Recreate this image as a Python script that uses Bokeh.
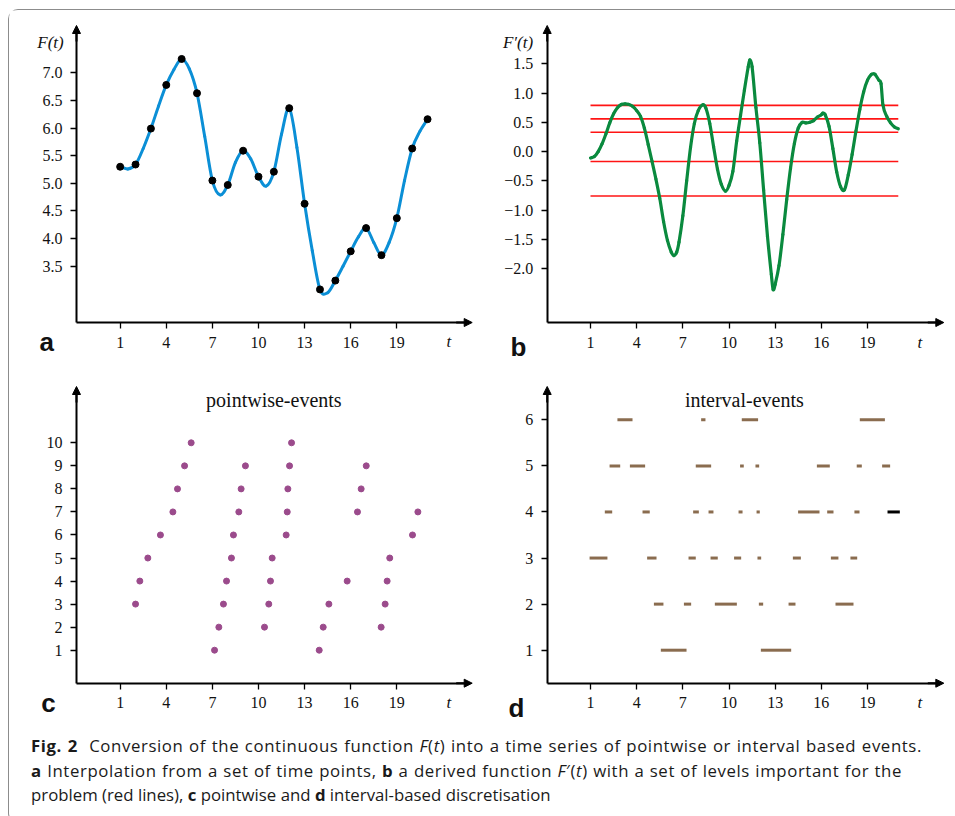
from bokeh.plotting import figure
from bokeh.models import ColumnDataSource, FixedTicker, Label, Arrow, NormalHead, Div
from bokeh.layouts import column, row
from bokeh.embed import file_html
from bokeh.resources import INLINE

# ---------------------------------------------------------------- data
# (a) F(t) sampled at the time points, plus the curve value halfway between them
time_points = [1, 2, 3, 4, 5, 6, 7, 8, 9, 10, 11, 12, 13, 14, 15, 16, 17, 18, 19, 20, 21]
f_values = [5.30, 5.34, 5.99, 6.78, 7.25, 6.63, 5.05, 4.97, 5.59, 5.12, 5.21,
            6.36, 4.63, 3.08, 3.24, 3.77, 4.19, 3.70, 4.37, 5.63, 6.16]
half_times = [1.5, 2.5, 3.5, 4.5, 5.5, 6.5, 7.5, 8.5, 9.5, 10.5,
              11.5, 12.5, 13.5, 14.5, 15.5, 16.5, 17.5, 18.5, 19.5, 20.5]
f_half_values = [5.26, 5.63, 6.40, 7.06, 7.07, 5.85, 4.79, 5.38, 5.44, 4.95,
                 5.89, 5.65, 3.78, 3.02, 3.50, 4.03, 3.93, 3.93, 5.05, 5.94]

# (b) derived function F'(t) and the levels of interest
deriv_times = [1.00, 1.25, 1.50, 1.75, 2.00, 2.25, 2.50, 2.75, 3.00, 3.25, 3.50, 3.75,
               4.00, 4.25, 4.50, 4.75, 5.00, 5.25, 5.50, 5.75, 6.00, 6.25, 6.42, 6.60,
               6.75, 7.00, 7.25, 7.50, 7.75, 8.00, 8.30, 8.50, 8.75, 9.00, 9.25, 9.50,
               9.77, 10.00, 10.25, 10.50, 10.75, 11.00, 11.25, 11.35, 11.50, 11.75, 12.00,
               12.25, 12.50, 12.75, 12.87, 13.00, 13.25, 13.50, 13.75, 14.00, 14.25, 14.50,
               14.75, 15.00, 15.25, 15.50, 15.75, 16.00, 16.10, 16.25, 16.50, 16.75, 17.00,
               17.25, 17.50, 17.75, 18.00, 18.25, 18.50, 18.75, 19.00, 19.25, 19.40, 19.50,
               19.75, 19.88, 20.00, 20.25, 20.50, 20.75, 21.00]
deriv_values = [-0.11, -0.085, 0.00, 0.13, 0.30, 0.49, 0.645, 0.75, 0.805, 0.816, 0.805, 0.77,
                0.70, 0.60, 0.40, 0.12, -0.17, -0.47, -0.80, -1.20, -1.52, -1.72, -1.78, -1.72,
                -1.55, -1.10, -0.50, 0.07, 0.48, 0.70, 0.80, 0.74, 0.48, 0.08, -0.30, -0.56,
                -0.678, -0.58, -0.34, 0.18, 0.62, 1.05, 1.45, 1.57, 1.45, 0.75, 0.15,
                -0.66, -1.45, -2.10, -2.36, -2.27, -1.95, -1.42, -0.82, -0.28, 0.14, 0.40,
                0.50, 0.49, 0.50, 0.53, 0.59, 0.63, 0.656, 0.63, 0.43, 0.05, -0.35,
                -0.60, -0.655, -0.40, -0.05, 0.35, 0.72, 1.02, 1.22, 1.318, 1.33, 1.318,
                1.215, 1.16, 0.80, 0.60, 0.49, 0.42, 0.39]
deriv_levels = [0.79, 0.56, 0.33, -0.17, -0.76]

# (c) pointwise events: time of each event and its level
pw_times = [2.00, 2.28, 2.80, 3.62, 4.43, 4.73, 5.19, 5.62,
            7.14, 7.42, 7.72, 7.92, 8.24, 8.37, 8.72, 8.87, 9.15,
            10.39, 10.67, 10.78, 10.89,
            11.80, 11.87, 11.91, 12.02, 12.15,
            13.95, 14.21, 14.58, 15.77, 16.44, 16.68, 17.01,
            17.98, 18.24, 18.37, 18.54,
            20.02, 20.37]
pw_levels = [3, 4, 5, 6, 7, 8, 9, 10,
             1, 2, 3, 4, 5, 6, 7, 8, 9,
             2, 3, 4, 5,
             6, 7, 8, 9, 10,
             1, 2, 3, 4, 7, 8, 9,
             2, 3, 4, 5,
             6, 7]

# (d) interval events: level, start, end
iv_levels = [1, 1,
             2, 2, 2, 2, 2, 2,
             3, 3, 3, 3, 3, 3, 3, 3, 3,
             4, 4, 4, 4, 4, 4, 4, 4, 4,
             5, 5, 5, 5, 5, 5, 5, 5,
             6, 6, 6, 6]
iv_start = [5.57, 12.07,
            5.12, 7.07, 9.08, 11.94, 13.87, 16.92,
            0.94, 4.68, 7.37, 8.80, 10.33, 11.85, 14.15, 16.62, 17.89,
            1.93, 4.38, 7.67, 8.67, 10.62, 11.79, 14.49, 16.38, 18.15,
            2.24, 3.56, 7.84, 10.72, 11.72, 15.71, 18.30, 19.95,
            2.75, 8.19, 10.83, 18.50]
iv_end = [7.24, 14.04,
          5.74, 7.54, 10.51, 12.22, 14.32, 18.09,
          2.10, 5.29, 7.84, 9.27, 10.79, 12.09, 14.67, 17.11, 18.33,
          2.41, 4.85, 8.04, 8.99, 10.88, 12.00, 15.88, 16.79, 18.48,
          2.93, 4.55, 8.84, 10.96, 11.96, 16.55, 18.63, 20.47,
          3.73, 8.47, 11.89, 20.13]
# interval still running at the end of the series
open_level = [4]
open_start = [20.30]
open_end = [21.10]

t_ticks = [1, 4, 7, 10, 13, 16, 19]
f_ticks = [3.5, 4.0, 4.5, 5.0, 5.5, 6.0, 6.5, 7.0]
d_ticks = [-2.0, -1.5, -1.0, -0.5, 0.0, 0.5, 1.0, 1.5]
pw_ticks = [1, 2, 3, 4, 5, 6, 7, 8, 9, 10]
iv_ticks = [1, 2, 3, 4, 5, 6]

# ---------------------------------------------------------------- style
BLUE = "#0b8fd6"
GREEN = "#0a8a3e"
RED = "#ff1414"
PURPLE = "#9b4b8c"
BROWN = "#8a6c4f"
SERIF = "Liberation Serif"
SANS = "Liberation Sans"


def hermite_bezier(xs, ys):
    """Cubic Bezier pieces of a smooth curve running through (xs, ys)."""
    n = len(xs)
    slopes = []
    for i in range(n):
        a, b = max(i - 1, 0), min(i + 1, n - 1)
        slopes.append((ys[b] - ys[a]) / (xs[b] - xs[a]))
    seg = dict(x0=[], y0=[], x1=[], y1=[], cx0=[], cy0=[], cx1=[], cy1=[])
    for i in range(n - 1):
        h = xs[i + 1] - xs[i]
        seg["x0"].append(xs[i]); seg["y0"].append(ys[i])
        seg["x1"].append(xs[i + 1]); seg["y1"].append(ys[i + 1])
        seg["cx0"].append(xs[i] + h / 3); seg["cy0"].append(ys[i] + slopes[i] * h / 3)
        seg["cx1"].append(xs[i + 1] - h / 3); seg["cy1"].append(ys[i + 1] - slopes[i + 1] * h / 3)
    return ColumnDataSource(seg)


def panel(x_range, y_range, width, height, axis_x, axis_y, tip_x, tip_y,
          y_ticks, y_labels=None):
    p = figure(width=width, height=height, x_range=x_range, y_range=y_range,
               min_border=0, toolbar_location=None, output_backend="svg")
    p.grid.visible = False
    p.outline_line_color = None
    p.background_fill_color = "white"
    p.border_fill_color = "white"

    ux = (x_range[1] - x_range[0]) / width
    uy = (y_range[1] - y_range[0]) / height
    head = 8

    xa, ya = p.xaxis[0], p.yaxis[0]
    xa.fixed_location = axis_y
    ya.fixed_location = axis_x
    xa.bounds = (axis_x, tip_x - head * 0.5 * ux)
    ya.bounds = (axis_y, tip_y - head * 0.5 * uy)
    xa.ticker = FixedTicker(ticks=t_ticks)
    ya.ticker = FixedTicker(ticks=y_ticks)
    if y_labels is not None:
        ya.major_label_overrides = dict(zip(y_ticks, y_labels))
    for ax in (xa, ya):
        ax.axis_line_color = "black"
        ax.axis_line_width = 2
        ax.major_tick_line_color = "black"
        ax.major_tick_line_width = 1.3
        ax.major_tick_in = 0
        ax.major_tick_out = 6
        ax.minor_tick_line_color = None
        ax.major_label_text_font = SERIF
        ax.major_label_text_font_size = "16px"
        ax.major_label_text_color = "#111111"
    xa.major_label_standoff = 8
    ya.major_label_standoff = 8

    for (xs, ys, xe, ye) in ((axis_x, tip_y - 2 * head * uy, axis_x, tip_y),
                             (tip_x - 2 * head * ux, axis_y, tip_x, axis_y)):
        p.add_layout(Arrow(x_start=xs, y_start=ys, x_end=xe, y_end=ye,
                           line_color="black", line_width=2,
                           end=NormalHead(size=head, fill_color="black",
                                          line_color="black", line_width=1)))
    return p


def text(p, x, y, s, size, font=SERIF, style="normal", align="center"):
    p.add_layout(Label(x=x, y=y, text=s, text_font=font, text_font_size=size,
                       text_font_style=style, text_align=align, text_baseline="middle",
                       text_color="#111111"))


def one_decimal(vals):
    return [f"{v:.1f}".replace("-", "\u2212") for v in vals]


# ---------------------------------------------------------------- (a) F(t)
pa = panel((-6.200, 24.444), (1.613, 8.127), 471, 360,
           axis_x=-1.841, axis_y=2.481, tip_x=23.904, tip_y=7.856,
           y_ticks=f_ticks, y_labels=one_decimal(f_ticks))
curve_t, curve_f = [], []
for i, t in enumerate(time_points):
    curve_t.append(t); curve_f.append(f_values[i])
    if i < len(half_times):
        curve_t.append(half_times[i]); curve_f.append(f_half_values[i])
pa.bezier(x0="x0", y0="y0", x1="x1", y1="y1", cx0="cx0", cy0="cy0", cx1="cx1", cy1="cy1",
          source=hermite_bezier(curve_t, curve_f), line_color=BLUE, line_width=3,
          line_cap="round")
pa.scatter(time_points, f_values, size=7, color="black")
text(pa, -3.53, 7.55, "F(t)", "17px", style="italic")
text(pa, 22.38, 2.13, "t", "17px", style="italic")
text(pa, -4.25, 2.13, "a", "26px", font=SANS, style="bold", align="left")

# ---------------------------------------------------------------- (b) F'(t)
pb = panel((-6.148, 24.718), (-3.744, 2.412), 475, 360,
           axis_x=-1.814, axis_y=-2.9235, tip_x=23.958, tip_y=2.1555,
           y_ticks=d_ticks, y_labels=one_decimal(d_ticks))
n_lv = len(deriv_levels)
pb.segment(x0=[deriv_times[0]] * n_lv, x1=[deriv_times[-1]] * n_lv,
           y0=deriv_levels, y1=deriv_levels, line_color=RED, line_width=1.7)
pb.bezier(x0="x0", y0="y0", x1="x1", y1="y1", cx0="cx0", cy0="cy0", cx1="cx1", cy1="cy1",
          source=hermite_bezier(deriv_times, deriv_values), line_color=GREEN, line_width=3.2,
          line_cap="round")
text(pb, -3.71, 1.87, "F\u2032(t)", "17px", style="italic")
text(pb, 22.40, -3.26, "t", "17px", style="italic")
text(pb, -4.20, -3.35, "b", "26px", font=SANS, style="bold", align="left")

# ---------------------------------------------------------------- (c) pointwise events
pc = panel((-6.200, 24.444), (-2.398, 13.1375), 471, 358,
           axis_x=-1.841, axis_y=-0.432, tip_x=23.904, tip_y=12.443,
           y_ticks=pw_ticks)
pc.scatter(pw_times, pw_levels, size=6, color=PURPLE)
text(pc, 11.0, 11.84, "pointwise-events", "20px")
text(pc, 22.38, -1.257, "t", "17px", style="italic")
text(pc, -4.14, -1.29, "c", "26px", font=SANS, style="bold", align="left")

# ---------------------------------------------------------------- (d) interval events
pd = panel((-6.148, 24.718), (-0.6992, 7.0699), 475, 358,
           axis_x=-1.814, axis_y=0.2839, tip_x=23.958, tip_y=6.7227,
           y_ticks=iv_ticks)
pd.segment(x0=iv_start, x1=iv_end, y0=iv_levels, y1=iv_levels,
           line_color=BROWN, line_width=3, line_cap="butt")
pd.segment(x0=open_start, x1=open_end, y0=open_level, y1=open_level,
           line_color="black", line_width=3, line_cap="butt")
text(pd, 11.0, 6.42, "interval-events", "20px")
text(pd, 22.40, -0.128, "t", "17px", style="italic")
text(pd, -4.33, -0.255, "d", "26px", font=SANS, style="bold", align="left")

# ---------------------------------------------------------------- caption
JUSTIFIED = "text-align:justify;text-align-last:justify;letter-spacing:0.6px;"
caption_html = (
    "<div style=\"font-family:'Open Sans',sans-serif;font-size:16.8px;line-height:24.5px;"
    "color:#1a1a1a;padding:1px 0 0 17px;\">"
    f"<div style=\"width:891px;{JUSTIFIED}\">"
    "<b>Fig. 2</b>&nbsp; Conversion of the continuous function <i>F</i>(<i>t</i>) "
    "into a time series of pointwise or interval based events.</div>"
    f"<div style=\"width:871px;{JUSTIFIED}\">"
    "<b>a</b> Interpolation from a set of time points, <b>b</b> a derived function "
    "<i>F</i>\u2032(<i>t</i>) with a set of levels important for the</div>"
    "<div style=\"white-space:nowrap;\">"
    "problem (red lines), <b>c</b> pointwise and <b>d</b> interval-based discretisation</div>"
    "</div>"
)
caption = Div(text=caption_html, width=946, height=84)

page = column(row(pa, pb), row(pc, pd), caption,
              styles={"margin-left": "8px", "margin-top": "9px",
                      "border-left": "1px solid #8c8c8c", "border-top": "1px solid #8c8c8c",
                      "border-bottom": "1px solid #8c8c8c",
                      "border-top-left-radius": "10px", "border-bottom-left-radius": "10px"})

open("out.html", "w").write(file_html(page, INLINE, title="F(t) events"))
